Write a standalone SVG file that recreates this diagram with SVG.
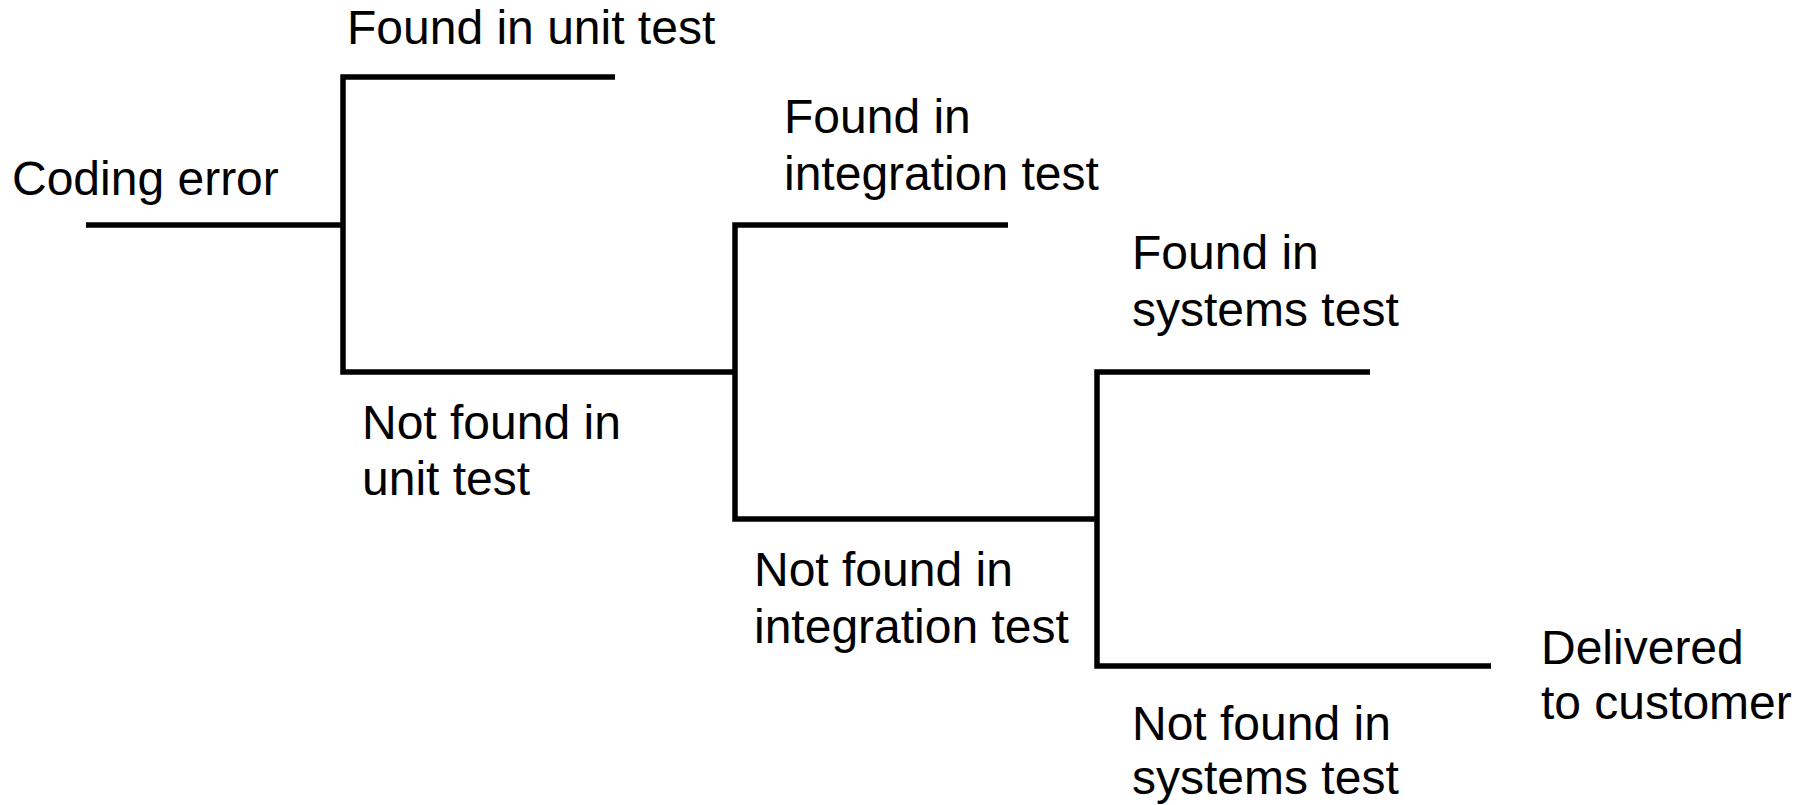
<svg xmlns="http://www.w3.org/2000/svg" width="1810" height="805" viewBox="0 0 1810 805">
  <style>
    .edge { fill: none; stroke: #000; stroke-width: 5.5; stroke-linejoin: miter; stroke-linecap: butt; }
    .label { font-family: "Liberation Sans", Arial, sans-serif; font-size: 48px; fill: #000; }
  </style>
  <rect width="1810" height="805" fill="#fff"/>

  <!-- branching lines of the defect tree -->
  <g id="connectors">
    <path class="edge" d="M86,225 H343"/>
    <path class="edge" d="M615,77 H343 V372 H735"/>
    <path class="edge" d="M1008,225 H735 V519 H1097"/>
    <path class="edge" d="M1370,372 H1097 V666 H1491"/>
  </g>

  <g id="coding-error">
    <text class="label" x="12" y="195">Coding error</text>
  </g>
  <g id="found-unit">
    <text class="label" x="347" y="44">Found in unit test</text>
  </g>
  <g id="not-found-unit">
    <text class="label" x="362" y="439">Not found in</text>
    <text class="label" x="362" y="495">unit test</text>
  </g>
  <g id="found-integration">
    <text class="label" x="784" y="133">Found in</text>
    <text class="label" x="784" y="190">integration test</text>
  </g>
  <g id="not-found-integration">
    <text class="label" x="754" y="586">Not found in</text>
    <text class="label" x="754" y="643">integration test</text>
  </g>
  <g id="found-systems">
    <text class="label" x="1132" y="269">Found in</text>
    <text class="label" x="1132" y="326">systems test</text>
  </g>
  <g id="not-found-systems">
    <text class="label" x="1132" y="740">Not found in</text>
    <text class="label" x="1132" y="794">systems test</text>
  </g>
  <g id="delivered">
    <text class="label" x="1541" y="664">Delivered</text>
    <text class="label" x="1541" y="719">to customer</text>
  </g>
</svg>
